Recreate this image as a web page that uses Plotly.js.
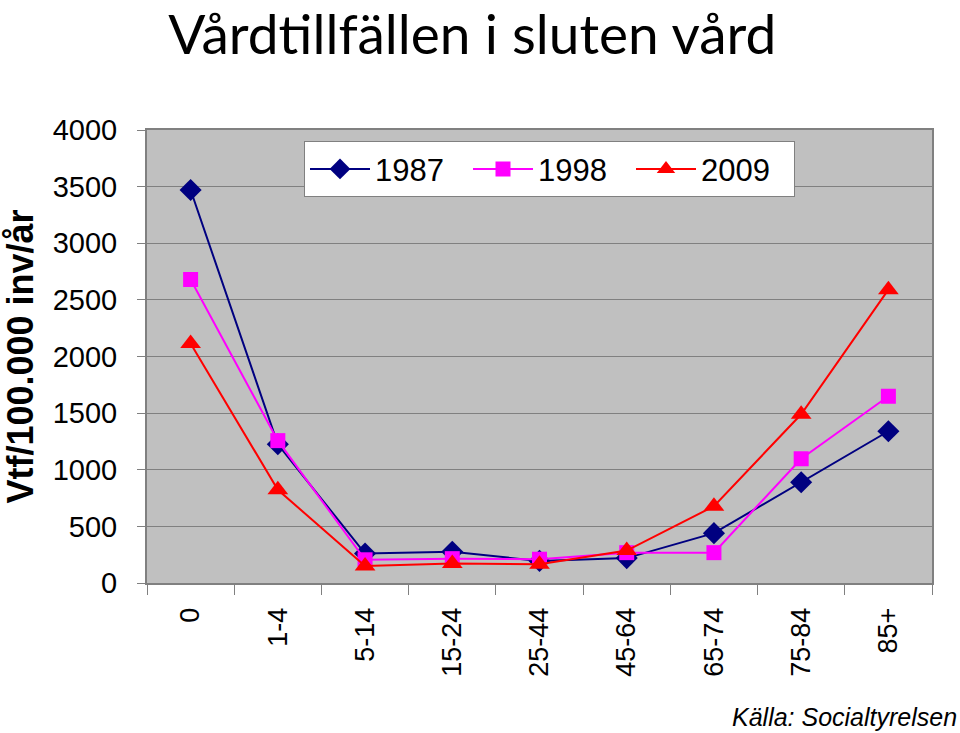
<!DOCTYPE html>
<html><head><meta charset="utf-8">
<script src="https://cdn.plot.ly/plotly-3.0.1.min.js"></script>
<style>html,body{margin:0;padding:0;background:#fff}#c{width:960px;height:733px}</style>
</head><body><div id="c"></div>
<script>
const categories = ["0","1-4","5-14","15-24","25-44","45-64","65-74","75-84","85+"];
const v1987 = [3470, 1225, 260, 275, 195, 220, 440, 890, 1340];
const v1998 = [2680, 1257, 205, 215, 210, 268, 268, 1097, 1649];
const v2009 = [2115, 823, 150, 172, 165, 286, 678, 1490, 2590];
const seriesNames = ["1987","1998","2009"];
const yTicks = [0,500,1000,1500,2000,2500,3000,3500,4000];

const mk = (name, y, color, symbol, size) => ({
  x: categories, y: y, name: name, type: 'scatter', mode: 'lines+markers',
  line: {color: color, width: 2},
  marker: {color: color, symbol: symbol, size: size}
});
const data = [
  mk(seriesNames[0], v1987, '#000080', 'diamond', 17),
  mk(seriesNames[1], v1998, '#FF00FF', 'square', 15),
  mk(seriesNames[2], v2009, '#FF0000', 'triangle-up', 18)
];
const font = 'Liberation Sans, Arial, sans-serif';
const layout = {
  width: 960, height: 733,
  paper_bgcolor: '#ffffff', plot_bgcolor: '#c0c0c0',
  margin: {l: 147, r: 28, t: 130, b: 150},
  font: {family: font, color: '#000'},
  title: {text: 'Vårdtillfällen i sluten vård', font: {family: 'Lato, sans-serif', size: 55, color: '#000'},
          x: 0.492, xanchor: 'center', yref: 'container', y: 0.952, yanchor: 'middle'},
  showlegend: true,
  legend: {orientation: 'h', x: 0.2, y: 0.975, xanchor: 'left', yanchor: 'top',
           bgcolor: '#ffffff', bordercolor: '#808080', borderwidth: 1,
           entrywidth: 88, itemwidth: 60,
           font: {family: font, size: 31, color: '#000'}},
  xaxis: {type: 'category', tickson: 'boundaries', showgrid: false,
          ticks: 'outside', ticklen: 10, tickcolor: '#808080', tickwidth: 1,
          tickangle: -90, ticklabelstandoff: 12,
          tickfont: {family: font, size: 27, color: '#000'},
          showline: true, linecolor: '#808080', linewidth: 2, mirror: true,
          range: [-0.5, 8.5], fixedrange: true},
  yaxis: {range: [0, 4000], tickvals: yTicks, ticktext: yTicks.map(String),
          showgrid: true, gridcolor: '#808080', gridwidth: 1,
          ticks: 'outside', ticklen: 8, tickcolor: '#808080',
          ticklabelstandoff: 14,
          tickfont: {family: font, size: 29, color: '#000'},
          showline: true, linecolor: '#808080', linewidth: 2, mirror: true,
          zeroline: false,
          title: {text: '<b>Vtf/100.000 inv/år</b>', font: {family: font, size: 36, color: '#000'}, standoff: 17}},
  annotations: [{
    text: '<i>Källa: Socialtyrelsen</i>', xref: 'paper', yref: 'paper',
    x: 1.035, y: -0.295, xanchor: 'right', yanchor: 'middle', showarrow: false,
    font: {family: font, size: 25, color: '#000'}
  }]
};
Plotly.newPlot('c', data, layout, {displayModeBar: false, staticPlot: true});
</script></body></html>
